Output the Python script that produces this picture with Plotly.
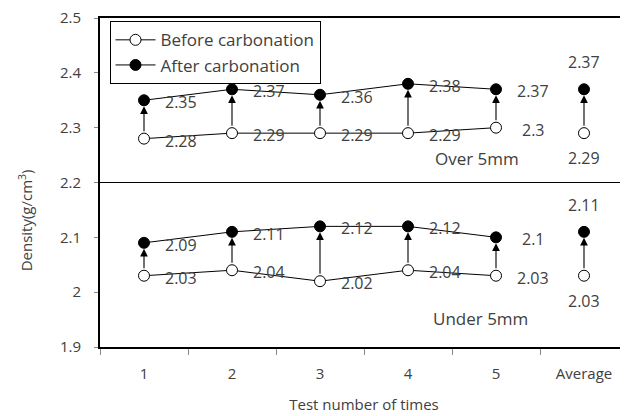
import plotly.graph_objects as go

categories = ["1", "2", "3", "4", "5", "Average"]
over_before = [2.28, 2.29, 2.29, 2.29, 2.30, 2.29]
over_after = [2.35, 2.37, 2.36, 2.38, 2.37, 2.37]
under_before = [2.03, 2.04, 2.02, 2.04, 2.03, 2.03]
under_after = [2.09, 2.11, 2.12, 2.12, 2.10, 2.11]

FONT = "Open Sans"
TXT = "#404040"

open_marker = dict(symbol="circle", size=11, color="white", line=dict(color="black", width=1))
fill_marker = dict(symbol="circle", size=11, color="black", line=dict(color="black", width=1))

fig = go.Figure()

# runs 1-5 joined by lines, Average on its own
for before, after, show in [(over_before, over_after, True), (under_before, under_after, False)]:
    fig.add_trace(go.Scatter(x=categories[:5], y=before[:5], mode="lines+markers",
                             line=dict(color="black", width=1), marker=open_marker,
                             name="Before carbonation", showlegend=show, legendrank=1))
    fig.add_trace(go.Scatter(x=categories[:5], y=after[:5], mode="lines+markers",
                             line=dict(color="black", width=1), marker=fill_marker,
                             name="After carbonation", showlegend=show, legendrank=2))
    fig.add_trace(go.Scatter(x=categories[5:], y=before[5:], mode="markers",
                             marker=open_marker, showlegend=False))
    fig.add_trace(go.Scatter(x=categories[5:], y=after[5:], mode="markers",
                             marker=fill_marker, showlegend=False))

lab_font = dict(family=FONT, size=16, color=TXT)
annotations = []
for before, after in [(over_before, over_after), (under_before, under_after)]:
    for i, cat in enumerate(categories):
        # annotations on a category axis take the category index
        annotations.append(dict(x=i, y=after[i], ax=i, ay=before[i], xref="x", yref="y",
                                axref="x", ayref="y", text="", showarrow=True,
                                arrowhead=2, arrowsize=1.4, arrowwidth=1.1, arrowcolor="black",
                                standoff=6, startstandoff=6))
        if cat == "Average":
            annotations.append(dict(x=i, y=after[i], text=f"{after[i]:g}", showarrow=False,
                                    yshift=27, font=lab_font))
            annotations.append(dict(x=i, y=before[i], text=f"{before[i]:g}", showarrow=False,
                                    yshift=-25, font=lab_font))
        else:
            annotations.append(dict(x=i, y=after[i], text=f"{after[i]:g}", showarrow=False,
                                    xshift=37, yshift=-2, font=lab_font))
            annotations.append(dict(x=i, y=before[i], text=f"{before[i]:g}", showarrow=False,
                                    xshift=37, yshift=-2, font=lab_font))

annotations.append(dict(x=0.714, y=2.244, xref="paper", yref="y", xanchor="center",
                        text="Over 5mm", showarrow=False, font=dict(family=FONT, size=17, color=TXT)))
annotations.append(dict(x=0.72, y=1.952, xref="paper", yref="y", xanchor="center",
                        text="Under 5mm", showarrow=False, font=dict(family=FONT, size=17, color=TXT)))
annotations.append(dict(x=-0.142, y=0.385, xref="paper", yref="paper", xanchor="center",
                        yanchor="middle", text="Density(g/cm<sup>3</sup>)", textangle=-90,
                        showarrow=False, font=dict(family=FONT, size=15, color=TXT)))

# the page body adds an 8px margin, so the figure is 8px smaller than the window
fig.update_layout(
    width=620, height=408,
    margin=dict(l=92, r=0, t=10, b=69),
    plot_bgcolor="white", paper_bgcolor="white",
    font=dict(family=FONT, size=14, color=TXT),
    showlegend=True,
    legend=dict(x=0.018, y=0.99, xanchor="left", yanchor="top", bgcolor="white",
                bordercolor="black", borderwidth=1, font=dict(family=FONT, size=17, color=TXT),
                tracegroupgap=0, itemwidth=40),
    annotations=annotations,
    shapes=[dict(type="line", xref="paper", yref="y", x0=0, x1=1, y0=2.2, y1=2.2,
                 line=dict(color="black", width=1.2))],
)

fig.update_xaxes(type="category", categoryorder="array", categoryarray=categories,
                 range=[-0.5, 5.5], showline=True, linecolor="black", linewidth=2, mirror=True,
                 ticks="outside", tickson="boundaries", ticklen=6, tickcolor="#888888",
                 showgrid=False, zeroline=False, tickfont=dict(size=15), ticklabelstandoff=12,
                 automargin=False,
                 title=dict(text="Test number of times", standoff=17, font=dict(size=15)))
fig.update_yaxes(range=[1.9, 2.5], dtick=0.1, showline=True, linecolor="black", linewidth=2,
                 ticks="outside", ticklen=4, tickcolor="#888888", showgrid=False, zeroline=False,
                 ticklabelstandoff=10, tickfont=dict(size=15), automargin=False,
                 ticklabeloverflow="allow")

fig.write_html("out.html")
